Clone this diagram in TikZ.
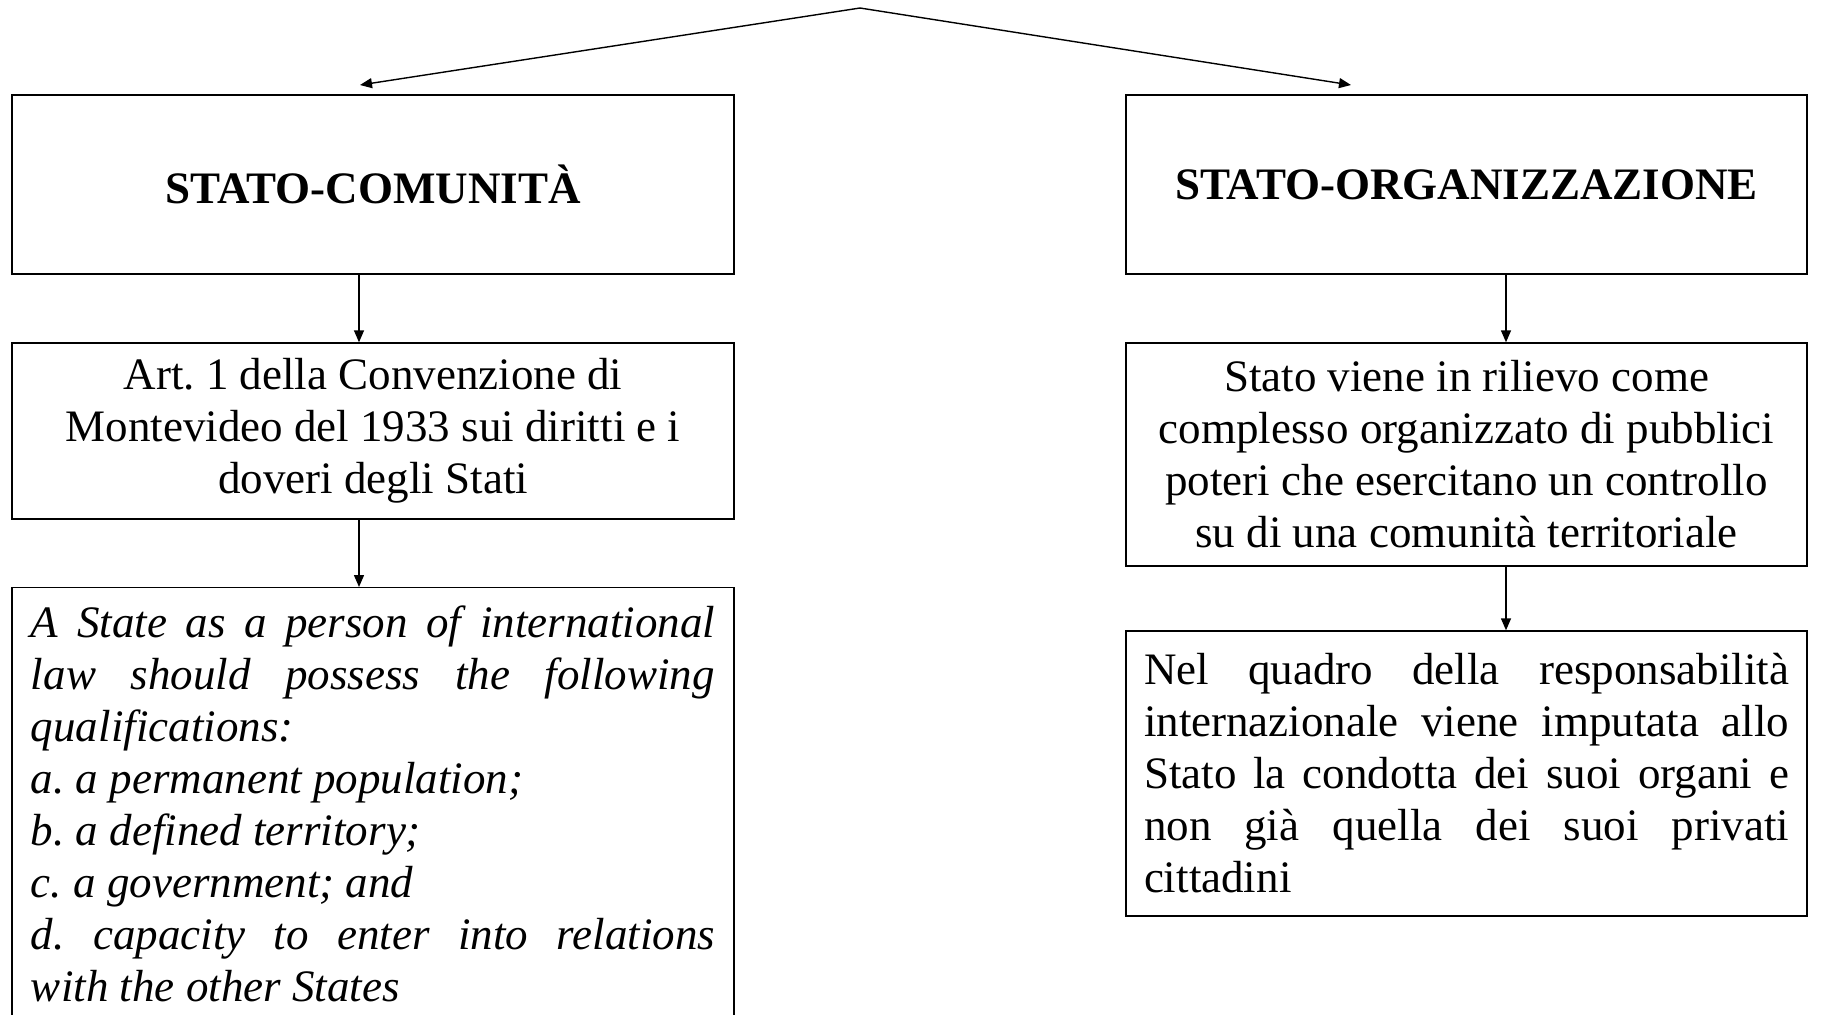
\documentclass[tikz,border=0pt]{standalone}
\usepackage{fontspec}
\setmainfont{Liberation Serif}
\usetikzlibrary{arrows.meta}
\frenchspacing
\begin{document}
\begin{tikzpicture}[x=0.5pt,y=-0.5pt,
    box/.style={rectangle,draw,line width=0.7pt,font=\fontsize{22.5}{26}\selectfont},
    link/.style={-{Triangle[length=6pt,width=5pt]},line width=0.7pt}]
  \useasboundingbox (0,0) rectangle (1822,1014);
  \coordinate (top) at (860,8);
  \coordinate (ltip) at (360,85);
  \coordinate (rtip) at (1351,85);
  \coordinate (lx) at (359,0);
  \coordinate (rx) at (1506,0);
  \node[box,minimum width=361pt,minimum height=89.5pt,font=\fontsize{22.5}{26}\selectfont\bfseries] (comunita) at (373,184.5) {STATO-COMUNITÀ};
  \node[box,minimum width=340.5pt,minimum height=89.5pt,font=\fontsize{22.5}{26}\selectfont\bfseries] (organizzazione) at (1466.5,184.5) {STATO-ORGANIZZAZIONE};
  \node[box,minimum width=361pt,minimum height=88pt,align=center] (art) at (373,431) {Art. 1 della Convenzione di\\Montevideo del 1933 sui diritti e i\\doveri degli Stati};
  \node[box,minimum width=340.5pt,minimum height=111.5pt,align=center] (rilievo) at (1466.5,454.5) {Stato viene in rilievo come\\complesso organizzato di pubblici\\poteri che esercitano un controllo\\su di una comunità territoriale};
  \node[box,anchor=north,text width=342pt,inner xsep=9.5pt,inner ysep=0pt,minimum height=216pt,align=justify,font=\fontsize{22.5}{26}\selectfont\itshape] (qualifiche) at (373,587) {A State as a person of international\linebreak law should possess the following\linebreak qualifications:\\a. a permanent population;\\b. a defined territory;\\c. a government; and\\d. capacity to enter into relations\linebreak with the other States};
  \node[box,text width=322.5pt,inner xsep=9pt,minimum height=142.5pt,align=justify] (responsabilita) at (1466.5,773.5) {Nel quadro della responsabilità\linebreak internazionale viene imputata allo\linebreak Stato la condotta dei suoi organi e\linebreak non già quella dei suoi privati\linebreak cittadini};
  \draw[link] (top) -- (ltip);
  \draw[link] (top) -- (rtip);
  \draw[link] (comunita.south -| lx) -- (art.north -| lx);
  \draw[link] (art.south -| lx) -- (qualifiche.north -| lx);
  \draw[link] (organizzazione.south -| rx) -- (rilievo.north -| rx);
  \draw[link] (rilievo.south -| rx) -- (responsabilita.north -| rx);
\end{tikzpicture}
\end{document}
